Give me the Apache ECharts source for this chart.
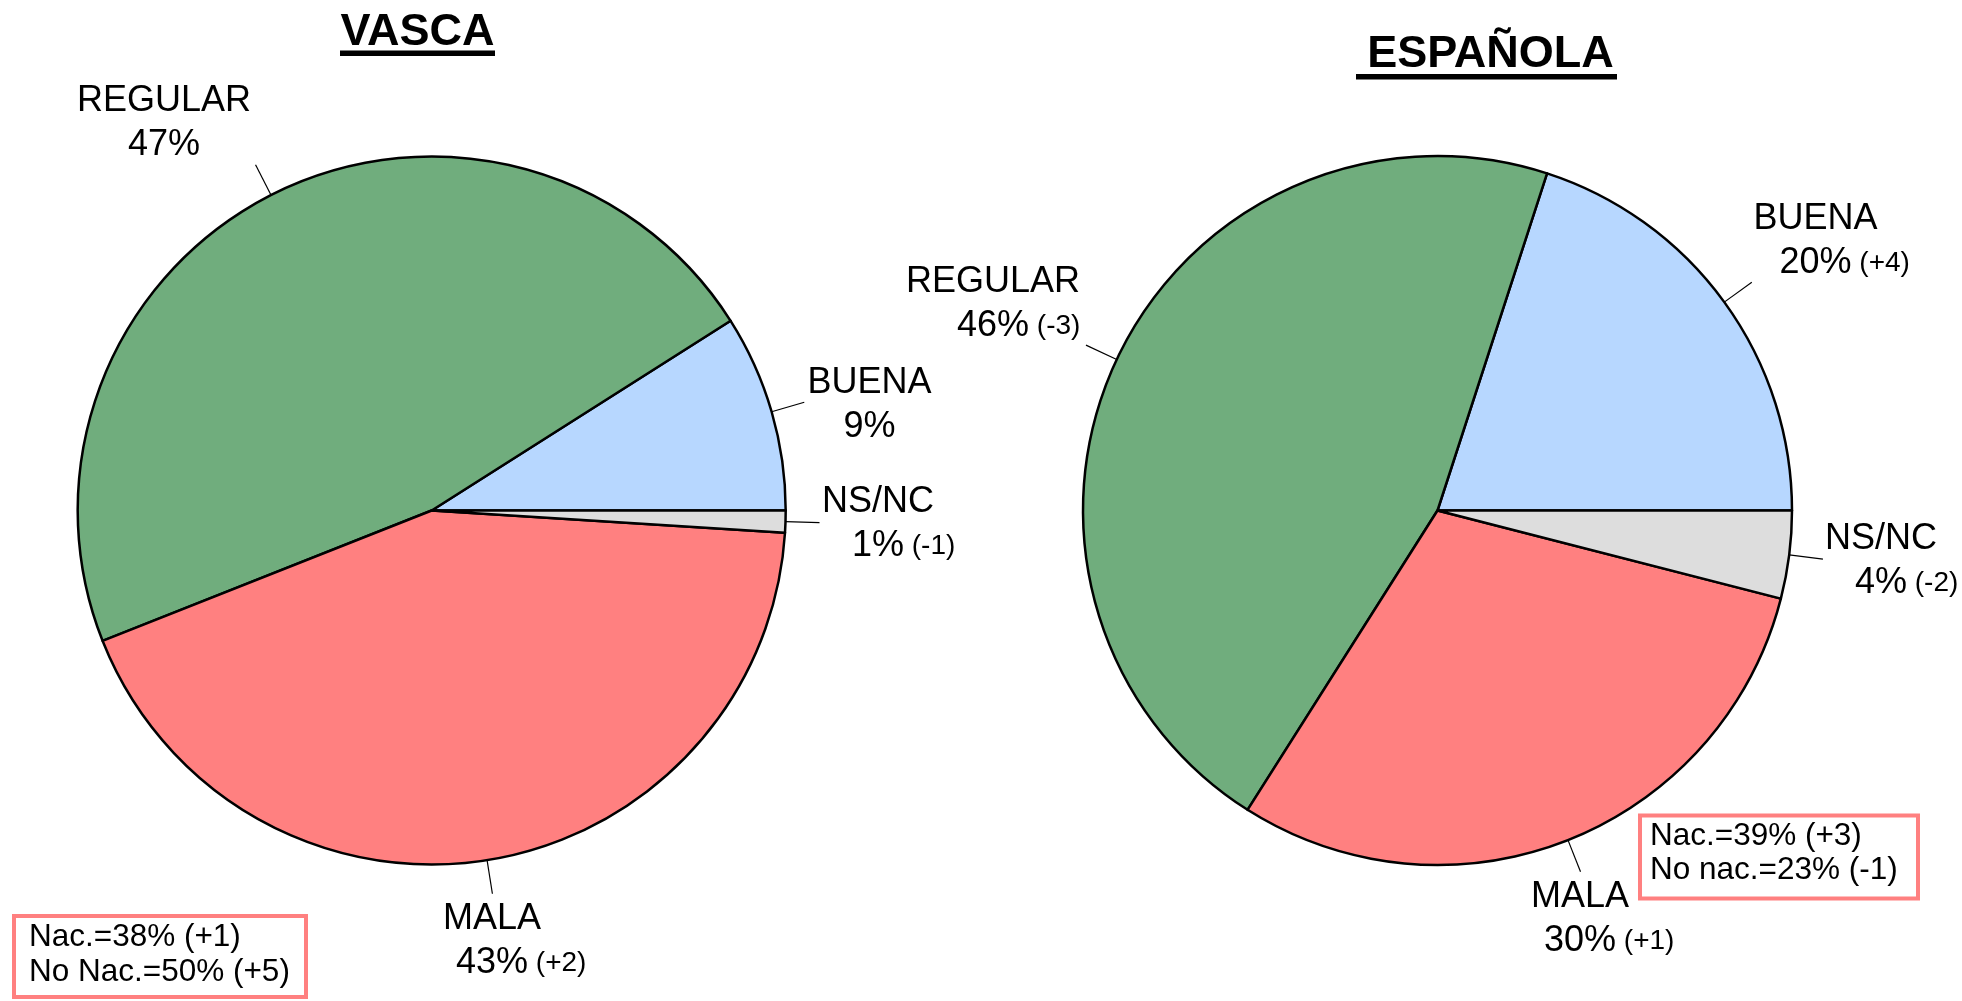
<!DOCTYPE html>
<html><head><meta charset="utf-8">
<script src="https://cdn.jsdelivr.net/npm/echarts@6/dist/echarts.min.js"></script>
<style>html,body{margin:0;padding:0;background:#fff}#c{width:1962px;height:1001px}</style>
</head><body><div id="c"></div>
<script>
// ---- data ----
const categories = ['BUENA', 'REGULAR', 'MALA', 'NS/NC'];
const vascaValues = [9, 47, 43, 1];
const vascaChanges = ['', '', '(+2)', '(-1)'];
const espValues = [20, 46, 30, 4];
const espChanges = ['(+4)', '(-3)', '(+1)', '(-2)'];
const titles = ['VASCA', 'ESPAÑOLA'];
const vascaNotes = ['Nac.=38% (+1)', 'No Nac.=50% (+5)'];
const espNotes = ['Nac.=39% (+3)', 'No nac.=23% (-1)'];

// ---- style / layout ----
const FONT = '"Liberation Sans", Arial, sans-serif';
const sliceColors = ['#B7D7FF', '#70AD7D', '#FF8080', '#DDDDDD'];
const pieLayout = [
  { center: [431.7, 510.5], radius: 354,
    labels: [[869.5, 403], [164, 121], [492, 939], [878, 522]] },
  { center: [1437.5, 510.5], radius: 354.5,
    labels: [[1815.5, 239], [993, 302], [1580, 917], [1881, 559]] }
];

const rich = {
  n: { fontSize: 36, lineHeight: 44, fontFamily: FONT, color: '#000', align: 'center' },
  v: { fontSize: 36, lineHeight: 44, fontFamily: FONT, color: '#000', align: 'center' },
  d: { fontSize: 28, lineHeight: 44, fontFamily: FONT, color: '#000', align: 'center' },
  h: { fontSize: 28, lineHeight: 44, fontFamily: FONT, color: 'rgba(0,0,0,0)', align: 'center' },
  s: { fontSize: 28, lineHeight: 44, fontFamily: FONT, color: '#000', align: 'center' }
};

function makeSeries(idx, values, changes) {
  const lay = pieLayout[idx];
  return {
    type: 'pie',
    center: lay.center,
    radius: lay.radius,
    startAngle: 0,
    clockwise: false,
    avoidLabelOverlap: false,
    silent: true,
    animation: false,
    data: categories.map((c, i) => ({ name: c, value: values[i], itemStyle: { color: sliceColors[i] } })),
    itemStyle: { borderColor: '#000', borderWidth: 2.5 },
    label: {
      show: true,
      position: 'outside',
      formatter: (p) => {
        const ch = changes[p.dataIndex];
        const line2 = ch
          ? '{h|' + ch + '}{s| }{v|' + p.value + '%}{s| }{d|' + ch + '}'
          : '{v|' + p.value + '%}';
        return '{n|' + p.name + '}\n' + line2;
      },
      rich: rich
    },
    labelLine: { show: true, length: 34, length2: 0, lineStyle: { color: '#000', width: 1.2 } },
    labelLayout: (params) => {
      const pos = lay.labels[params.dataIndex];
      return {
        x: pos[0], y: pos[1] + 2,
        align: 'center', verticalAlign: 'middle',
        labelLinePoints: params.labelLinePoints
      };
    }
  };
}

const chart = echarts.init(document.getElementById('c'), null, { renderer: 'canvas' });
chart.setOption({
  backgroundColor: '#fff',
  animation: false,
  series: [
    makeSeries(0, vascaValues, vascaChanges),
    makeSeries(1, espValues, espChanges)
  ],
  graphic: [
    { type: 'text', style: { text: titles[0], x: 417.5, y: 33, align: 'center', verticalAlign: 'middle',
        font: 'bold 45px ' + FONT, fill: '#000' } },
    { type: 'rect', shape: { x: 340, y: 50.5, width: 155, height: 5.5 }, style: { fill: '#000' } },
    { type: 'text', style: { text: titles[1], x: 1490.5, y: 55, align: 'center', verticalAlign: 'middle',
        font: 'bold 45px ' + FONT, fill: '#000' } },
    { type: 'rect', shape: { x: 1356, y: 74, width: 261, height: 5.5 }, style: { fill: '#000' } },

    { type: 'rect', shape: { x: 14, y: 916, width: 292, height: 81 },
      style: { fill: '#fff', stroke: '#FF8080', lineWidth: 4 } },
    { type: 'text', style: { text: vascaNotes.join('\n'), x: 29, y: 955, align: 'left', verticalAlign: 'middle',
        fontSize: 31.5, fontFamily: FONT, lineHeight: 35, fill: '#000' } },
    { type: 'rect', shape: { x: 1640, y: 815.5, width: 278, height: 83 },
      style: { fill: '#fff', stroke: '#FF8080', lineWidth: 4 } },
    { type: 'text', style: { text: espNotes.join('\n'), x: 1650, y: 853, align: 'left', verticalAlign: 'middle',
        fontSize: 31.5, fontFamily: FONT, lineHeight: 34, fill: '#000' } }
  ]
});
</script>
</body></html>
